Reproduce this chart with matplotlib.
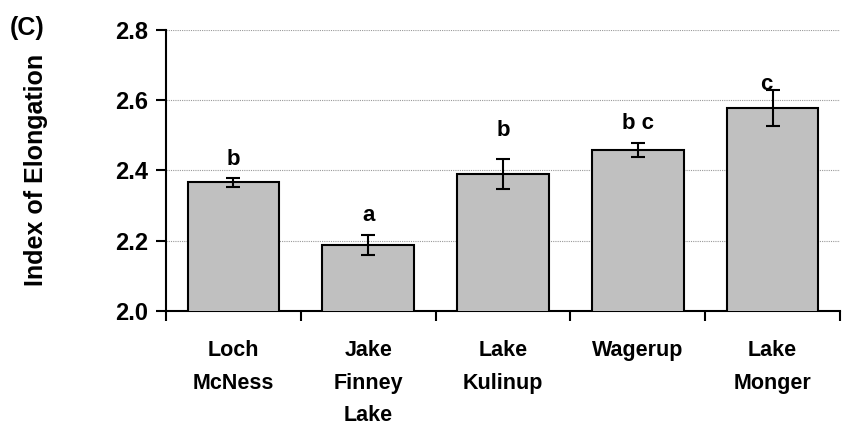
import matplotlib
matplotlib.use("Agg")
import matplotlib.pyplot as plt
import numpy as np

categories = ["Loch\nMcNess", "Jake\nFinney\nLake", "Lake\nKulinup", "Wagerup", "Lake\nMonger"]
means = [2.366, 2.187, 2.390, 2.458, 2.578]
errors = [0.013, 0.028, 0.043, 0.020, 0.052]
letters = ["b", "a", "b", "b c", "c"]
letter_y = [2.432, 2.272, 2.514, 2.534, 2.645]

plt.rcParams['font.family'] = ['Liberation Sans', 'DejaVu Sans']
plt.rcParams['font.weight'] = 'bold'

fig = plt.figure(figsize=(8.49, 4.28), dpi=100)
ax = fig.add_axes([0.1955, 0.2734, 0.7939, 0.6566])

x = np.arange(len(categories))
ax.bar(x, means, width=0.68, color='#C0C0C0', edgecolor='black', linewidth=1.5, zorder=3)
ax.errorbar(x, means, yerr=errors, fmt='none', ecolor='black', elinewidth=1.5,
            capsize=5, capthick=1.5, zorder=4)
for xi, t, yy in zip(x, letters, letter_y):
    ax.text(xi - (0.05 if t == "c" else 0), yy, t, ha='center', va='center',
            fontsize=16, fontweight='bold', zorder=5)

ax.set_xlim(-0.5, len(categories) - 0.5)
ax.set_ylim(2.0, 2.8)
ax.set_yticks([2.0, 2.2, 2.4, 2.6, 2.8])
ax.set_yticklabels(["2.0", "2.2", "2.4", "2.6", "2.8"], fontsize=17, fontweight='bold')
ax.yaxis.grid(True, linestyle=(0, (1, 1)), color='#999999', linewidth=0.8, zorder=0)
ax.set_axisbelow(True)

ax.set_xticks(x)
ax.set_xticklabels(categories, fontsize=15.5, fontweight='bold', linespacing=1.72, va='top')
ax.set_xticks(np.arange(len(categories) + 1) - 0.5, minor=True)
ax.tick_params(axis='x', which='major', length=0, pad=21)
ax.tick_params(axis='x', which='minor', length=7, width=1.5, direction='out')
ax.tick_params(axis='y', length=7, width=1.5, direction='out', pad=6)

for s in ['top', 'right']:
    ax.spines[s].set_visible(False)
for s in ['left', 'bottom']:
    ax.spines[s].set_linewidth(1.5)

fig.text(36 / 849, 1 - 170 / 428, "Index of Elongation", rotation=90, fontsize=18,
         fontweight='bold', ha='center', va='center')
fig.text(10 / 849, 1 - 28 / 428, "(C)", fontsize=18, fontweight='bold', ha='left', va='center')

fig.savefig("out.png", dpi=100)
